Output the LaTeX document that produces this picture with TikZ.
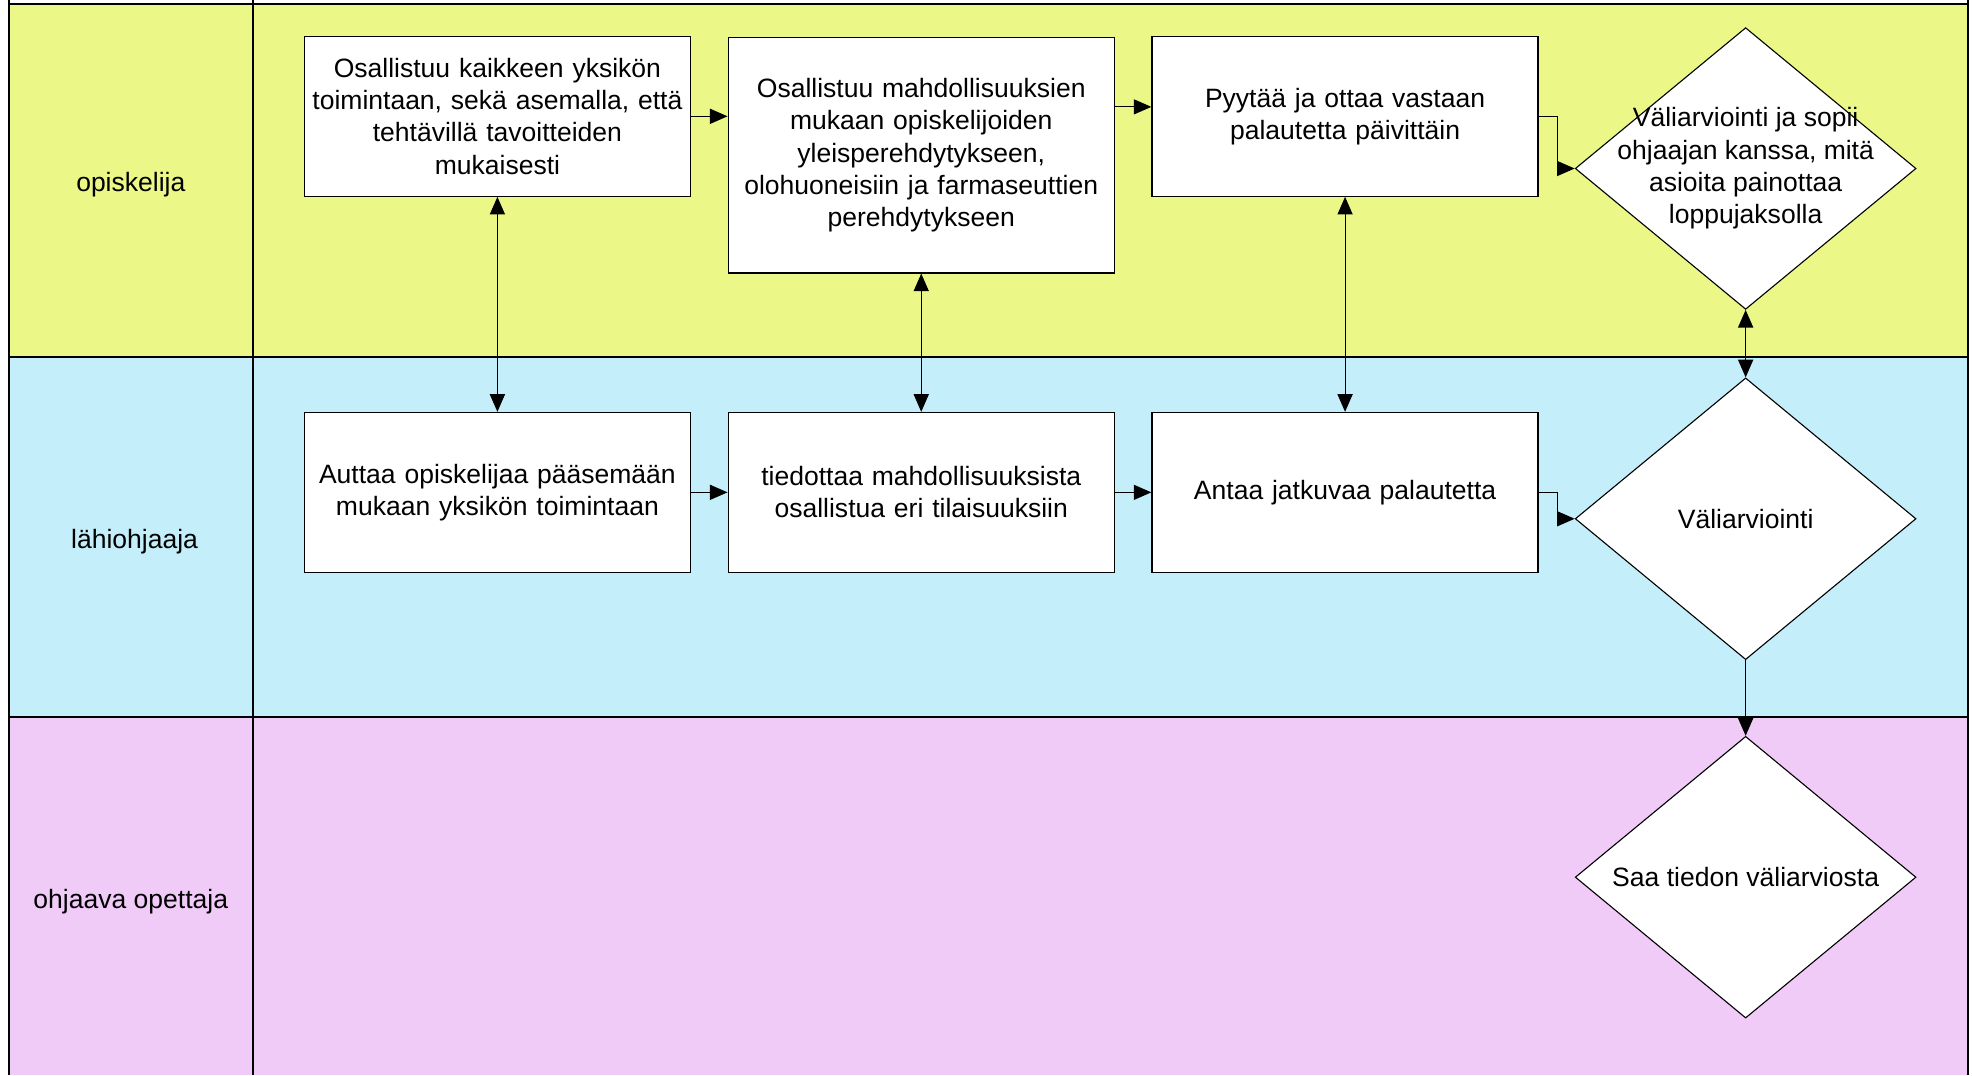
\documentclass[tikz,border=0pt]{standalone}
\usepackage{fontspec}
\setmainfont{Liberation Sans}
\usetikzlibrary{arrows.meta,shapes.geometric}
\definecolor{laneyellow}{RGB}{235,247,135}
\definecolor{laneblue}{RGB}{196,238,250}
\definecolor{lanepink}{RGB}{240,203,248}
\tikzset{
	lane/.style={line width=1.1pt, color=black},
	task/.style={draw=black, line width=0.6pt, fill=white, minimum width=6.14cm, minimum height=2.54cm, text width=5.9cm, align=center, inner sep=0pt},
	check/.style={draw=black, line width=0.5pt, fill=white, diamond, minimum width=5.42cm, minimum height=4.48cm, inner sep=-0.6cm, align=center},
	flow/.style={line width=0.5pt, -{Triangle[length=0.28cm, width=0.24cm]}},
	both/.style={line width=0.5pt, {Triangle[length=0.28cm, width=0.24cm]}-{Triangle[length=0.28cm, width=0.24cm]}}
}

\begin{document}
\begin{tikzpicture}[font=\fontsize{12}{14.6}\selectfont]
			%%%%% START %%%%%
			\useasboundingbox (0, 0) rectangle (31.36, 17.1);
			\fill[white] (0, 0) rectangle (31.36, 17.1);
			
			% lanes
			\fill[laneyellow] (0.14, 11.42) rectangle (31.30, 17.04);
			\fill[laneblue] (0.14, 5.70) rectangle (31.30, 11.42);
			\fill[lanepink] (0.14, 0) rectangle (31.30, 5.70);
			
			\draw[lane] (0.14, 17.1) -- (0.14, 0);
			\draw[lane] (4.02, 17.1) -- (4.02, 0);
			\draw[lane] (31.30, 17.1) -- (31.30, 0);
			\draw[lane] (0.14, 17.04) -- (31.30, 17.04);
			\draw[lane] (0.14, 11.42) -- (31.30, 11.42);
			\draw[lane] (0.14, 5.70) -- (31.30, 5.70);
			
			\node (opiskelija) at (2.08, 14.16) {opiskelija};
			\node (lahiohjaaja) at (2.14, 8.49) {lähiohjaaja};
			\node (opettaja) at (2.08, 2.76) {ohjaava opettaja};
			
			% opiskelija
			\node[task] (osallistuu) at (7.91, 15.25) {Osallistuu kaikkeen yksikön\\toimintaan, sekä asemalla, että\\tehtävillä tavoitteiden\\mukaisesti};
			\node[task, minimum height=3.74cm] (perehdytys) at (14.65, 14.63) {Osallistuu mahdollisuuksien\\mukaan opiskelijoiden\\yleisperehdytykseen,\\olohuoneisiin ja farmaseuttien\\perehdytykseen};
			\node[task] (pyytaa) at (21.39, 15.25) {Pyytää ja ottaa vastaan\\palautetta päivittäin\\[1.1em]};
			\node[check] (valisopii) at (27.76, 14.42) {Väliarviointi ja sopii\\ohjaajan kanssa, mitä\\asioita painottaa\\loppujaksolla};
			
			% lähiohjaaja
			\node[task] (auttaa) at (7.91, 9.27) {Auttaa opiskelijaa pääsemään\\mukaan yksikön toimintaan};
			\node[task] (tiedottaa) at (14.65, 9.27) {tiedottaa mahdollisuuksista\\osallistua eri tilaisuuksiin};
			\node[task] (antaa) at (21.39, 9.27) {Antaa jatkuvaa palautetta};
			\node[check] (valiarv) at (27.76, 8.85) {Väliarviointi};
			
			% ohjaava opettaja
			\node[check] (saatieto) at (27.76, 3.15) {Saa tiedon väliarviosta};
			
			% connectors
			\draw[flow] (osallistuu.east) -- (osallistuu.east -| perehdytys.west);
			\draw[flow] (perehdytys.east |- 0, 15.4) -- (pyytaa.west |- 0, 15.4);
			\draw[flow] (pyytaa.east) -- ++(0.3, 0) |- (valisopii.west);
			\draw[flow] (auttaa.east) -- (tiedottaa.west);
			\draw[flow] (tiedottaa.east) -- (antaa.west);
			\draw[flow] (antaa.east) -- ++(0.3, 0) |- (valiarv.west);
			
			\draw[both] (osallistuu.south) -- (auttaa.north);
			\draw[both] (perehdytys.south) -- (tiedottaa.north);
			\draw[both] (pyytaa.south) -- (antaa.north);
			\draw[both] (valisopii.south) -- (valiarv.north);
			\draw[flow] (valiarv.south) -- (saatieto.north);
			%%%%% END %%%%%
\end{tikzpicture}
\end{document}
